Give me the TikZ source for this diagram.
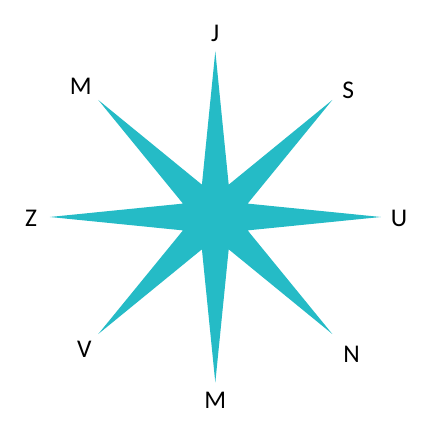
\documentclass[tikz,border=0pt]{standalone}
\usepackage{fontspec}
\setmainfont{Carlito}
\usepackage{tikz}

\definecolor{starcyan}{RGB}{37,187,198}
\tikzset{lbl/.style={font=\fontsize{14.5}{17}\selectfont, inner sep=0pt}}

\begin{document}
\begin{tikzpicture}
\useasboundingbox (-4.306,-4.36) rectangle (4.334,4.34);

\fill[starcyan] (90:3.32) \foreach \a in {90,135,...,405} {-- (\a:3.31) -- (\a+22.5:0.7)} -- cycle;

\node[lbl] (nJ) at (0,3.674) {J};
\node[lbl] (nS) at (2.66,2.54) {S};
\node[lbl] (nU) at (3.674,-0.026) {U};
\node[lbl] (nN) at (2.728,-2.746) {N};
\node[lbl] (nMb) at (0,-3.66) {M};
\node[lbl] (nV) at (-2.62,-2.64) {V};
\node[lbl] (nZ) at (-3.686,-0.026) {Z};
\node[lbl] (nMt) at (-2.692,2.62) {M};
\end{tikzpicture}
\end{document}
